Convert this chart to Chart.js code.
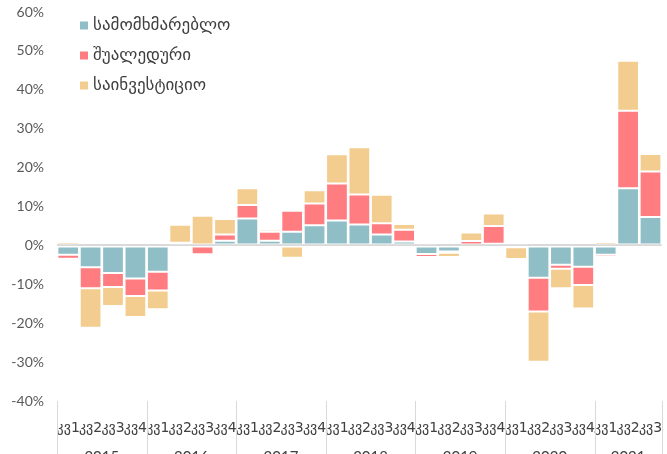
<!DOCTYPE html>
<html>
<head>
<meta charset="utf-8">
<script src="https://cdn.jsdelivr.net/npm/chart.js@4"></script>
<style>
  html, body { margin: 0; padding: 0; background: #fff; }
  #wrap { width: 667px; height: 454px; position: relative; }
</style>
</head>
<body>
<div id="wrap"><canvas id="c" width="667" height="454"></canvas></div>
<script>
// Quarter labels and their years
const quarters = [
  'კვ1','კვ2','კვ3','კვ4', 'კვ1','კვ2','კვ3','კვ4', 'კვ1','კვ2','კვ3','კვ4',
  'კვ1','კვ2','კვ3','კვ4', 'კვ1','კვ2','კვ3','კვ4', 'კვ1','კვ2','კვ3','კვ4',
  'კვ1','კვ2','კვ3'
];
const years = ['2015', '2016', '2017', '2018', '2019', '2020', '2021'];

// Contributions to growth, percentage points
const consumer = [
  -2.4, -5.6, -7.1, -8.5,
  -6.8, 0.7, 0.0, 1.2,
  6.9, 1.2, 3.5, 5.2,
  6.4, 5.4, 2.8, 1.0,
  -2.2, -1.6, -0.5, 0.4,
  -0.5, -8.3, -5.0, -5.5,
  -2.4, 14.7, 7.3
];
const intermediate = [
  -1.0, -5.4, -3.6, -4.5,
  -4.8, 0.0, -2.3, 1.6,
  3.5, 2.3, 5.4, 5.6,
  9.5, 7.7, 2.9, 3.0,
  -0.8, -0.3, 1.1, 4.6,
  0.6, -8.7, -1.0, -4.7,
  -0.6, 19.9, 11.7
];
const investment = [
  0.9, -10.2, -4.9, -5.4,
  -4.8, 4.6, 7.6, 4.0,
  4.3, 0.6, -3.2, 3.4,
  7.5, 12.1, 7.3, 1.5,
  0.4, -1.1, 2.2, 3.2,
  -3.0, -12.9, -5.0, -6.0,
  0.9, 12.9, 4.5
];
const seriesNames = ['სამომხმარებლო', 'შუალედური', 'საინვესტიციო'];
const seriesColors = ['#8FBEC7', '#FF7C80', '#F2CD8F'];
const yTicks = { min: -40, max: 60, step: 10 };

const GEO_FONT = '"DejaVu Sans", "Noto Sans", sans-serif';
const NUM_FONT = 'Lato, "Open Sans", sans-serif';

// Year labels and separators under the category axis
const yearAxis = {
  id: 'yearAxis',
  afterDraw(chart) {
    const { ctx, scales: { x }, chartArea } = chart;
    const half = (x.getPixelForValue(1) - x.getPixelForValue(0)) / 2;
    ctx.save();
    ctx.strokeStyle = '#d9d9d9';
    ctx.lineWidth = 1;
    ctx.fillStyle = '#404040';
    ctx.font = '15px ' + NUM_FONT;
    ctx.textAlign = 'center';
    ctx.textBaseline = 'top';
    const n = quarters.length;
    const edges = [];
    for (let i = 0; i < n; i += 4) edges.push(x.getPixelForValue(i) - half);
    edges.push(x.getPixelForValue(n - 1) + half);
    edges.forEach(px => {
      const xx = Math.round(px) + 0.5;
      ctx.beginPath();
      ctx.moveTo(xx, chartArea.bottom);
      ctx.lineTo(xx, chart.height);
      ctx.stroke();
    });
    years.forEach((yr, i) => {
      ctx.fillText(yr, (edges[i] + edges[i + 1]) / 2, 450);
    });
    ctx.restore();
  }
};

// Vertical legend inside the plot area
const boxLegend = {
  id: 'boxLegend',
  afterDraw(chart) {
    const { ctx } = chart;
    ctx.save();
    ctx.font = '17px ' + GEO_FONT;
    ctx.textBaseline = 'middle';
    ctx.textAlign = 'left';
    chart.data.datasets.forEach((ds, i) => {
      const cy = 25.5 + i * 30;
      ctx.fillStyle = ds.backgroundColor;
      ctx.fillRect(80, cy - 4, 8, 8);
      ctx.fillStyle = '#404040';
      ctx.fillText(ds.label, 93, cy);
    });
    ctx.restore();
  }
};

const datasets = [consumer, intermediate, investment].map((vals, i) => ({
  label: seriesNames[i],
  data: vals,
  backgroundColor: seriesColors[i],
  borderColor: 'rgba(255,255,255,0.85)',
  borderWidth: 1,
  borderSkipped: false,
  barPercentage: 0.97,
  categoryPercentage: 1.0
}));

new Chart(document.getElementById('c'), {
  type: 'bar',
  data: { labels: quarters, datasets },
  options: {
    responsive: false,
    animation: false,
    layout: { padding: { top: 12, right: 5.3, left: 0, bottom: 0 } },
    plugins: { legend: { display: false }, tooltip: { enabled: false } },
    scales: {
      x: {
        stacked: true,
        grid: { display: false },
        border: { display: false },
        ticks: {
          autoSkip: false, maxRotation: 0, minRotation: 0,
          color: '#404040', padding: 11,
          font: { family: GEO_FONT, size: 14 }
        },
        afterFit(scale) {
          scale.height = 53;
          scale.paddingLeft = 0;
          scale.paddingRight = 0;
        }
      },
      y: {
        stacked: true,
        min: yTicks.min, max: yTicks.max,
        border: { display: false },
        grid: {
          drawTicks: false,
          color: c => (c.tick && c.tick.value === 0) ? '#d9d9d9' : 'rgba(0,0,0,0)',
          lineWidth: 2
        },
        ticks: {
          stepSize: yTicks.step,
          padding: 13,
          color: '#595959',
          font: { family: NUM_FONT, size: 14 },
          callback: v => v + '%'
        },
        afterFit(scale) {
          scale.width = 57;
          scale.paddingTop = 0;
          scale.paddingBottom = 0;
        }
      }
    }
  },
  plugins: [yearAxis, boxLegend]
});
</script>
</body>
</html>
